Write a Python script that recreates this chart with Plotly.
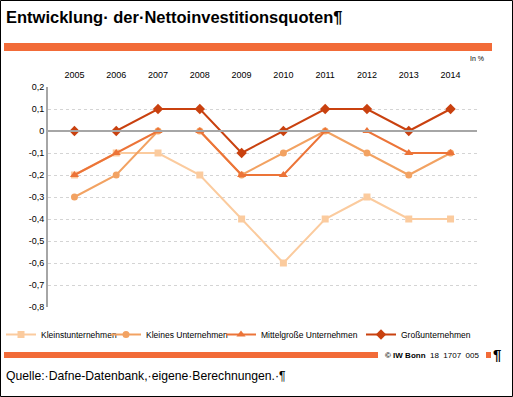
import plotly.graph_objects as go

years = ["2005", "2006", "2007", "2008", "2009", "2010", "2011", "2012", "2013", "2014"]
kleinst = [-0.2, -0.1, -0.1, -0.2, -0.4, -0.6, -0.4, -0.3, -0.4, -0.4]
kleines = [-0.3, -0.2, 0.0, 0.0, -0.2, -0.1, 0.0, -0.1, -0.2, -0.1]
mittel = [-0.2, -0.1, 0.0, 0.0, -0.2, -0.2, 0.0, 0.0, -0.1, -0.1]
gross = [0.0, 0.0, 0.1, 0.1, -0.1, 0.0, 0.1, 0.1, 0.0, 0.1]
names = ["Kleinstunternehmen", "Kleines Unternehmen", "Mittelgroße Unternehmen", "Großunternehmen"]
ytick_vals = [0.2, 0.1, 0.0, -0.1, -0.2, -0.3, -0.4, -0.5, -0.6, -0.7, -0.8]
ytick_text = ["0,2", "0,1", "0", "-0,1", "-0,2", "-0,3", "-0,4", "-0,5", "-0,6", "-0,7", "-0,8"]

W, H = 513, 397
L, R, T, B = 48, 36, 87, 90
pw, ph = W - L - R, H - T - B

def px(x):
    return (x - L) / pw

def py(y):
    return (H - B - y) / ph

colors = ["#FBCB9E", "#F2A262", "#EC7438", "#C9410F"]
symbols = ["square", "circle", "triangle-up", "diamond"]
sizes = [7, 7, 8, 8]
legend_widths = [60, 70, 95, 70]
series = [kleinst, kleines, mittel, gross]

fig = go.Figure()
for nm, vals, c, s, sz, lw in zip(names, series, colors, symbols, sizes, legend_widths):
    fig.add_trace(go.Scatter(
        x=years, y=vals, name=nm, mode="lines+markers",
        line=dict(color=c, width=2),
        marker=dict(symbol=s, size=sz, color=c),
        legendwidth=lw,
    ))

orange = "#F26B38"
shapes = [
    dict(type="rect", xref="paper", yref="paper", x0=px(0.5), x1=px(512.5), y0=py(0.5), y1=py(396.5),
         line=dict(color="black", width=1), fillcolor="rgba(0,0,0,0)", layer="below"),
    dict(type="rect", xref="paper", yref="paper", x0=px(4), x1=px(492), y0=py(51), y1=py(43),
         line=dict(width=0), fillcolor=orange),
    dict(type="rect", xref="paper", yref="paper", x0=px(4), x1=px(378), y0=py(358), y1=py(352),
         line=dict(width=0), fillcolor=orange),
    dict(type="rect", xref="paper", yref="paper", x0=px(486), x1=px(491), y0=py(358), y1=py(352),
         line=dict(width=0), fillcolor=orange),
    dict(type="line", xref="paper", yref="y", x0=0, x1=1, y0=0, y1=0,
         line=dict(color="#A6A6A6", width=2)),
]

font_fam = "Liberation Sans, Arial"
annotations = [
    dict(text="<b>Entwicklung· der·Nettoinvestitionsquoten¶</b>", xref="paper", yref="paper",
         x=px(4), y=py(17), xanchor="left", yanchor="middle", showarrow=False,
         font=dict(family=font_fam, size=16.5, color="black")),
    dict(text="In %", xref="paper", yref="paper", x=px(486), y=py(58), xanchor="right", yanchor="middle",
         showarrow=False, font=dict(family=font_fam, size=7, color="black")),
    dict(text="<b>© IW Bonn</b>  18  1707  005", xref="paper", yref="paper", x=px(383), y=py(355),
         xanchor="left", yanchor="middle", showarrow=False,
         font=dict(family=font_fam, size=8, color="black")),
    dict(text="<b>¶</b>", xref="paper", yref="paper", x=px(491), y=py(354), xanchor="left", yanchor="middle",
         showarrow=False, font=dict(family=font_fam, size=15, color="black")),
    dict(text="Quelle:·Dafne-Datenbank,·eigene·Berechnungen.·¶", xref="paper", yref="paper",
         x=px(4), y=py(376), xanchor="left", yanchor="middle", showarrow=False,
         font=dict(family=font_fam, size=12.2, color="black")),
]

fig.update_layout(
    width=W, height=H,
    margin=dict(l=L, r=R, t=T, b=B, autoexpand=False),
    paper_bgcolor="white", plot_bgcolor="white",
    font=dict(family=font_fam, size=9, color="black"),
    showlegend=True,
    legend=dict(orientation="h", x=px(1), y=py(320), xanchor="left", yanchor="top",
                font=dict(size=8.5), itemwidth=30, tracegroupgap=0, bgcolor="rgba(0,0,0,0)"),
    xaxis=dict(side="top", showgrid=False, showline=False, zeroline=False, ticks="",
               tickfont=dict(size=9), ticklabelstandoff=6, fixedrange=True),
    yaxis=dict(range=[-0.8, 0.2], tickvals=ytick_vals, ticktext=ytick_text, showgrid=True,
               gridcolor="#D4D4D4", griddash="dot", gridwidth=1, zeroline=False,
               showline=True, linecolor="#A6A6A6", linewidth=2, ticks="", tickfont=dict(size=9)),
    shapes=shapes, annotations=annotations,
)

fig.write_html("out.html", config={"displayModeBar": False},
               post_script="document.body.style.margin='0';document.body.style.overflow='hidden';")
